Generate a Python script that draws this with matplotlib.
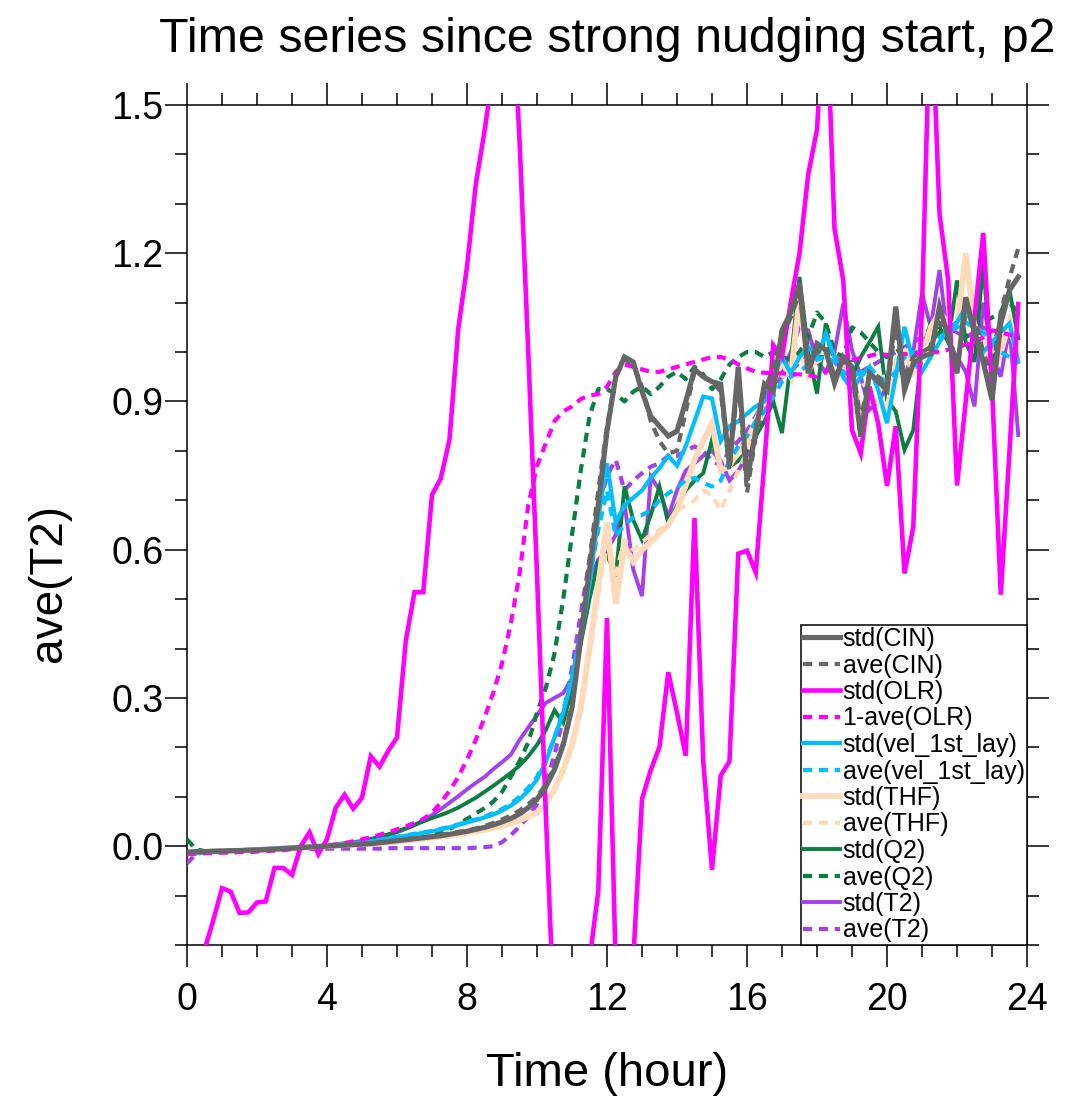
import numpy as np
import matplotlib
matplotlib.use("Agg")
import matplotlib.pyplot as plt
from matplotlib.ticker import MultipleLocator, FormatStrFormatter

plt.rcParams['font.family'] = ['Liberation Sans', 'DejaVu Sans']

# time axis: 15-minute output since the start of strong nudging (hours)
hours = np.arange(96) * 0.25

std_cin = [
    -0.012, -0.011, -0.011, -0.010, -0.010, -0.009, -0.009, -0.008,
    -0.008, -0.007, -0.006, -0.005, -0.004, -0.003, -0.002, -0.001,
    0.000, 0.001, 0.002, 0.003, 0.004, 0.005, 0.007, 0.009,
    0.011, 0.013, 0.015, 0.017, 0.019, 0.021, 0.024, 0.027,
    0.030, 0.034, 0.038, 0.043, 0.049, 0.056, 0.065, 0.078,
    0.095, 0.120, 0.155, 0.205, 0.280, 0.420, 0.560, 0.690,
    0.840, 0.950, 0.990, 0.980, 0.920, 0.870, 0.850, 0.830,
    0.840, 0.900, 0.965, 0.950, 0.940, 0.935, 0.770, 0.970,
    0.740, 0.840, 0.935, 0.920, 1.044, 1.080, 1.139, 0.957,
    1.017, 1.004, 0.937, 0.990, 0.970, 0.829, 0.957, 0.940,
    0.923, 1.092, 0.923, 0.977, 0.990, 0.997, 1.092, 1.030,
    0.957, 1.111, 1.040, 0.980, 0.903, 1.058, 1.125, 1.152]

ave_cin = [
    -0.013, -0.012, -0.011, -0.011, -0.010, -0.010, -0.009, -0.009,
    -0.008, -0.007, -0.006, -0.005, -0.004, -0.003, -0.002, -0.001,
    0.000, 0.001, 0.002, 0.003, 0.005, 0.006, 0.008, 0.010,
    0.012, 0.014, 0.016, 0.018, 0.020, 0.023, 0.026, 0.029,
    0.032, 0.036, 0.041, 0.047, 0.054, 0.062, 0.072, 0.085,
    0.100, 0.125, 0.160, 0.210, 0.290, 0.430, 0.580, 0.720,
    0.850, 0.950, 0.985, 0.975, 0.930, 0.860, 0.820, 0.795,
    0.800, 0.880, 0.960, 0.950, 0.940, 0.920, 0.760, 0.950,
    0.715, 0.830, 0.920, 0.970, 1.030, 1.070, 1.120, 0.980,
    1.000, 1.010, 0.950, 0.980, 0.980, 0.860, 0.960, 0.950,
    0.930, 1.050, 0.950, 0.990, 1.000, 1.010, 1.060, 1.040,
    0.970, 1.080, 1.070, 1.000, 0.950, 1.080, 1.150, 1.210]

std_olr = [
    -0.450, -0.320, -0.210, -0.150, -0.085, -0.092, -0.135, -0.134,
    -0.114, -0.112, -0.044, -0.044, -0.058, 0.000, 0.028, -0.016,
    0.014, 0.078, 0.104, 0.076, 0.098, 0.182, 0.161, 0.193,
    0.220, 0.415, 0.514, 0.514, 0.711, 0.744, 0.823, 1.047,
    1.173, 1.339, 1.447, 1.570, 1.700, 1.780, 1.430, 1.000,
    0.550, 0.070, -0.370, -0.600, -0.700, -0.500, -0.230, -0.092,
    0.462, -0.250, -0.600, -0.230, 0.095, 0.154, 0.201, 0.352,
    0.270, 0.183, 0.664, 0.172, -0.048, 0.143, 0.172, 0.592,
    0.598, 0.554, 0.780, 1.014, 0.990, 1.100, 1.200, 1.360,
    1.450, 1.750, 1.250, 1.145, 0.842, 0.795, 0.930, 0.855,
    0.729, 0.850, 0.552, 0.646, 1.090, 1.750, 1.280, 1.144,
    0.730, 0.900, 1.070, 1.241, 0.930, 0.509, 0.800, 1.097]

one_minus_ave_olr = [
    -0.016, -0.015, -0.014, -0.014, -0.013, -0.013, -0.012, -0.012,
    -0.011, -0.010, -0.009, -0.008, -0.006, -0.004, -0.002, -0.001,
    0.000, 0.003, 0.006, 0.010, 0.014, 0.018, 0.023, 0.028,
    0.034, 0.040, 0.047, 0.055, 0.068, 0.088, 0.112, 0.140,
    0.175, 0.215, 0.260, 0.310, 0.370, 0.450, 0.550, 0.690,
    0.770, 0.815, 0.860, 0.880, 0.890, 0.905, 0.912, 0.915,
    0.930, 0.960, 0.975, 0.970, 0.965, 0.960, 0.960, 0.965,
    0.970, 0.975, 0.980, 0.985, 0.990, 0.990, 0.985, 0.975,
    0.967, 0.960, 0.958, 0.957, 0.957, 0.955, 0.955, 0.953,
    0.950, 0.960, 0.970, 0.978, 0.984, 0.988, 0.992, 0.997,
    0.994, 0.995, 0.996, 0.997, 0.998, 1.000, 1.000, 1.005,
    1.010, 1.015, 1.020, 1.030, 1.044, 1.040, 1.035, 1.030]

std_vel = [
    -0.015, -0.014, -0.013, -0.012, -0.011, -0.010, -0.009, -0.008,
    -0.007, -0.006, -0.005, -0.004, -0.003, -0.002, -0.001, -0.001,
    0.000, 0.002, 0.004, 0.006, 0.008, 0.010, 0.012, 0.015,
    0.018, 0.021, 0.024, 0.027, 0.030, 0.034, 0.038, 0.043,
    0.048, 0.053, 0.058, 0.064, 0.072, 0.082, 0.095, 0.112,
    0.135, 0.170, 0.220, 0.270, 0.340, 0.420, 0.530, 0.665,
    0.775, 0.655, 0.690, 0.705, 0.720, 0.745, 0.765, 0.790,
    0.770, 0.810, 0.860, 0.910, 0.906, 0.820, 0.850, 0.860,
    0.875, 0.890, 0.900, 0.950, 0.990, 0.957, 0.990, 1.010,
    0.990, 1.037, 0.990, 0.950, 0.923, 0.950, 0.970, 0.923,
    0.856, 0.950, 1.051, 0.980, 0.960, 0.990, 1.020, 1.050,
    1.060, 1.092, 1.040, 1.000, 1.020, 1.040, 1.058, 0.980]

ave_vel = [
    -0.016, -0.015, -0.014, -0.013, -0.012, -0.011, -0.010, -0.009,
    -0.008, -0.007, -0.006, -0.005, -0.004, -0.003, -0.002, -0.001,
    0.000, 0.002, 0.004, 0.006, 0.008, 0.010, 0.013, 0.016,
    0.019, 0.022, 0.025, 0.028, 0.031, 0.035, 0.039, 0.044,
    0.049, 0.054, 0.060, 0.067, 0.075, 0.086, 0.100, 0.118,
    0.140, 0.175, 0.220, 0.275, 0.345, 0.430, 0.540, 0.640,
    0.720, 0.627, 0.650, 0.665, 0.670, 0.680, 0.700, 0.714,
    0.725, 0.741, 0.745, 0.735, 0.728, 0.740, 0.780, 0.809,
    0.830, 0.860, 0.880, 0.910, 0.940, 0.950, 0.960, 0.975,
    0.985, 0.990, 0.980, 0.960, 0.950, 0.960, 0.970, 0.950,
    0.940, 0.960, 0.990, 1.000, 1.000, 1.010, 1.030, 1.040,
    1.050, 1.060, 1.050, 1.040, 1.020, 1.000, 0.990, 0.977]

std_thf = [
    -0.014, -0.013, -0.012, -0.011, -0.011, -0.010, -0.009, -0.009,
    -0.008, -0.007, -0.006, -0.005, -0.004, -0.003, -0.002, -0.001,
    0.000, 0.001, 0.002, 0.003, 0.004, 0.005, 0.006, 0.008,
    0.009, 0.011, 0.013, 0.015, 0.017, 0.019, 0.021, 0.024,
    0.027, 0.030, 0.033, 0.037, 0.041, 0.046, 0.052, 0.060,
    0.068, 0.085, 0.115, 0.155, 0.205, 0.280, 0.400, 0.530,
    0.655, 0.490, 0.607, 0.576, 0.600, 0.615, 0.634, 0.650,
    0.680, 0.730, 0.782, 0.820, 0.856, 0.760, 0.770, 0.800,
    0.820, 0.860, 0.900, 0.940, 0.980, 0.950, 1.110, 0.960,
    1.000, 1.000, 0.970, 0.950, 0.950, 0.880, 0.900, 0.900,
    0.880, 0.980, 1.000, 0.960, 0.990, 1.050, 1.080, 1.060,
    1.050, 1.200, 1.050, 1.000, 0.950, 1.000, 1.060, 0.990]

ave_thf = [
    -0.014, -0.013, -0.012, -0.011, -0.011, -0.010, -0.009, -0.009,
    -0.008, -0.007, -0.006, -0.005, -0.004, -0.003, -0.002, -0.001,
    0.000, 0.001, 0.002, 0.003, 0.004, 0.005, 0.006, 0.008,
    0.009, 0.011, 0.013, 0.015, 0.017, 0.019, 0.021, 0.024,
    0.027, 0.030, 0.033, 0.037, 0.041, 0.046, 0.052, 0.059,
    0.066, 0.083, 0.112, 0.150, 0.200, 0.275, 0.390, 0.510,
    0.610, 0.550, 0.620, 0.600, 0.615, 0.630, 0.640, 0.650,
    0.680, 0.690, 0.700, 0.720, 0.710, 0.680, 0.720, 0.760,
    0.800, 0.840, 0.880, 0.920, 0.950, 0.960, 0.990, 0.970,
    0.980, 0.990, 0.980, 0.970, 0.960, 0.930, 0.940, 0.950,
    0.950, 0.980, 0.990, 0.970, 0.990, 1.040, 1.060, 1.050,
    1.040, 1.080, 1.060, 1.020, 1.000, 1.020, 1.040, 1.000]

std_q2 = [
    -0.013, -0.012, -0.012, -0.011, -0.010, -0.009, -0.009, -0.008,
    -0.007, -0.006, -0.005, -0.004, -0.003, -0.002, -0.001, 0.000,
    0.001, 0.002, 0.004, 0.006, 0.009, 0.013, 0.018, 0.024,
    0.030, 0.036, 0.043, 0.050, 0.057, 0.063, 0.070, 0.078,
    0.088, 0.098, 0.110, 0.122, 0.135, 0.148, 0.163, 0.182,
    0.205, 0.235, 0.275, 0.250, 0.320, 0.410, 0.500, 0.576,
    0.590, 0.546, 0.728, 0.660, 0.620, 0.670, 0.728, 0.654,
    0.690, 0.720, 0.740, 0.755, 0.822, 0.762, 0.768, 0.780,
    0.800, 0.830, 0.860, 0.900, 0.836, 0.980, 1.152, 1.000,
    0.916, 1.058, 0.950, 0.960, 0.950, 0.990, 1.020, 1.051,
    0.903, 0.880, 0.802, 0.842, 1.000, 1.060, 1.050, 1.020,
    1.145, 1.020, 0.980, 1.179, 0.950, 1.080, 1.125, 1.028]

ave_q2 = [
    0.014, -0.006, -0.010, -0.010, -0.010, -0.009, -0.009, -0.008,
    -0.007, -0.006, -0.005, -0.004, -0.003, -0.002, -0.001, 0.000,
    0.001, 0.002, 0.003, 0.004, 0.005, 0.006, 0.008, 0.010,
    0.012, 0.014, 0.016, 0.018, 0.021, 0.027, 0.035, 0.044,
    0.055, 0.066, 0.077, 0.090, 0.110, 0.140, 0.172, 0.210,
    0.270, 0.320, 0.390, 0.500, 0.630, 0.760, 0.870, 0.925,
    0.925, 0.915, 0.900, 0.920, 0.930, 0.915, 0.930, 0.950,
    0.960, 0.945, 0.970, 0.955, 0.925, 0.945, 0.975, 0.990,
    1.000, 1.000, 0.990, 1.000, 0.990, 0.985, 1.000, 1.030,
    1.080, 1.060, 1.000, 0.990, 1.050, 1.040, 1.020, 1.000,
    0.990, 1.000, 1.010, 1.000, 1.000, 1.020, 1.040, 1.050,
    1.040, 1.030, 1.050, 1.060, 1.070, 1.080, 1.100, 1.080]

std_t2 = [
    -0.012, -0.011, -0.010, -0.010, -0.009, -0.008, -0.008, -0.007,
    -0.006, -0.005, -0.004, -0.003, -0.002, -0.001, 0.000, 0.001,
    0.002, 0.004, 0.006, 0.008, 0.011, 0.015, 0.019, 0.023,
    0.028, 0.035, 0.043, 0.052, 0.063, 0.075, 0.088, 0.101,
    0.115, 0.128, 0.140, 0.156, 0.170, 0.185, 0.215, 0.240,
    0.265, 0.290, 0.300, 0.310, 0.340, 0.440, 0.540, 0.580,
    0.600, 0.630, 0.694, 0.560, 0.506, 0.748, 0.720, 0.667,
    0.720, 0.760, 0.775, 0.790, 0.800, 0.780, 0.740, 0.760,
    0.790, 0.830, 0.880, 0.920, 0.960, 1.000, 1.050, 1.044,
    0.980, 0.960, 1.000, 1.098, 1.004, 0.950, 0.883, 0.900,
    0.930, 0.980, 0.950, 1.000, 1.119, 1.050, 1.166, 1.020,
    0.990, 0.960, 0.890, 1.100, 1.000, 0.950, 1.050, 0.832]

ave_t2 = [
    -0.035, -0.016, -0.012, -0.010, -0.009, -0.009, -0.008, -0.008,
    -0.008, -0.007, -0.007, -0.007, -0.006, -0.006, -0.006, -0.005,
    -0.005, -0.005, -0.005, -0.005, -0.005, -0.005, -0.005, -0.004,
    -0.004, -0.004, -0.004, -0.004, -0.004, -0.004, -0.004, -0.004,
    -0.004, -0.003, -0.002, 0.000, 0.008, 0.022, 0.040, 0.060,
    0.085, 0.125, 0.185, 0.260, 0.360, 0.470, 0.580, 0.680,
    0.750, 0.782, 0.720, 0.740, 0.755, 0.768, 0.775, 0.790,
    0.790, 0.800, 0.809, 0.800, 0.780, 0.770, 0.800, 0.820,
    0.840, 0.870, 0.900, 0.930, 0.950, 0.960, 0.980, 0.990,
    0.990, 1.000, 0.990, 0.980, 0.970, 0.960, 0.970, 0.980,
    0.990, 1.000, 1.010, 1.020, 1.030, 1.050, 1.060, 1.050,
    1.040, 1.030, 1.040, 1.050, 1.040, 1.030, 1.020, 1.010]

labels = ["std(CIN)", "ave(CIN)", "std(OLR)", "1-ave(OLR)",
          "std(vel_1st_lay)", "ave(vel_1st_lay)", "std(THF)", "ave(THF)",
          "std(Q2)", "ave(Q2)", "std(T2)", "ave(T2)"]
series = [std_cin, ave_cin, std_olr, one_minus_ave_olr, std_vel, ave_vel,
          std_thf, ave_thf, std_q2, ave_q2, std_t2, ave_t2]
colors = ["#666666", "#666666", "#ff00ff", "#ff00ff", "#00bfff", "#00bfff",
          "#ffdab9", "#ffdab9", "#0a7f3f", "#0a7f3f", "#a440ee", "#a440ee"]
widths = [3.7, 3.0, 3.3, 3.0, 3.0, 3.0, 4.2, 3.0, 2.8, 3.0, 2.8, 3.0]
dashed = [False, True] * 6

fig = plt.figure(figsize=(10.66, 10.99), dpi=100)
ax = fig.add_axes([187 / 1066, 154 / 1099, 840 / 1066, 840 / 1099])

handles = []
for i, (vals, lab, col, lw, dsh) in enumerate(zip(series, labels, colors, widths, dashed)):
    line, = ax.plot(hours, vals, color=col, lw=lw, label=lab,
                    solid_joinstyle='miter', zorder=20 - i)
    if dsh:
        line.set_dashes((2.2, 1.6))
    handles.append(line)

ax.set_xlim(0, 24)
ax.set_ylim(-0.2, 1.5)
ax.xaxis.set_major_locator(MultipleLocator(4))
ax.xaxis.set_minor_locator(MultipleLocator(1))
ax.yaxis.set_major_locator(MultipleLocator(0.3))
ax.yaxis.set_minor_locator(MultipleLocator(0.1))
ax.yaxis.set_major_formatter(FormatStrFormatter('%.1f'))

ax.tick_params(which='both', direction='out', top=True, right=True, width=1.1)
ax.tick_params(which='major', length=16, labelsize=27)
ax.tick_params(which='minor', length=8.5)
ax.tick_params(axis='x', which='major', pad=11)
ax.tick_params(axis='y', which='major', pad=1)
for sp in ax.spines.values():
    sp.set_linewidth(1.1)

ax.set_title("Time series since strong nudging start, p2", fontsize=34.8, pad=38)
ax.set_xlabel("Time (hour)", fontsize=34, labelpad=24)
ax.set_ylabel("ave(T2)", fontsize=33)
ax.yaxis.set_label_coords(-0.138, 0.431)

leg = ax.legend(handles=handles, loc='lower right', bbox_to_anchor=(1.0, 0.0),
                borderaxespad=0.0, fontsize=18, frameon=True, fancybox=False,
                framealpha=1.0, edgecolor='black', handlelength=1.48,
                handletextpad=0.1, labelspacing=0.1, borderpad=0.1)
leg.get_frame().set_linewidth(1.1)
leg.set_zorder(50)

fig.savefig("out.png", dpi=100)
